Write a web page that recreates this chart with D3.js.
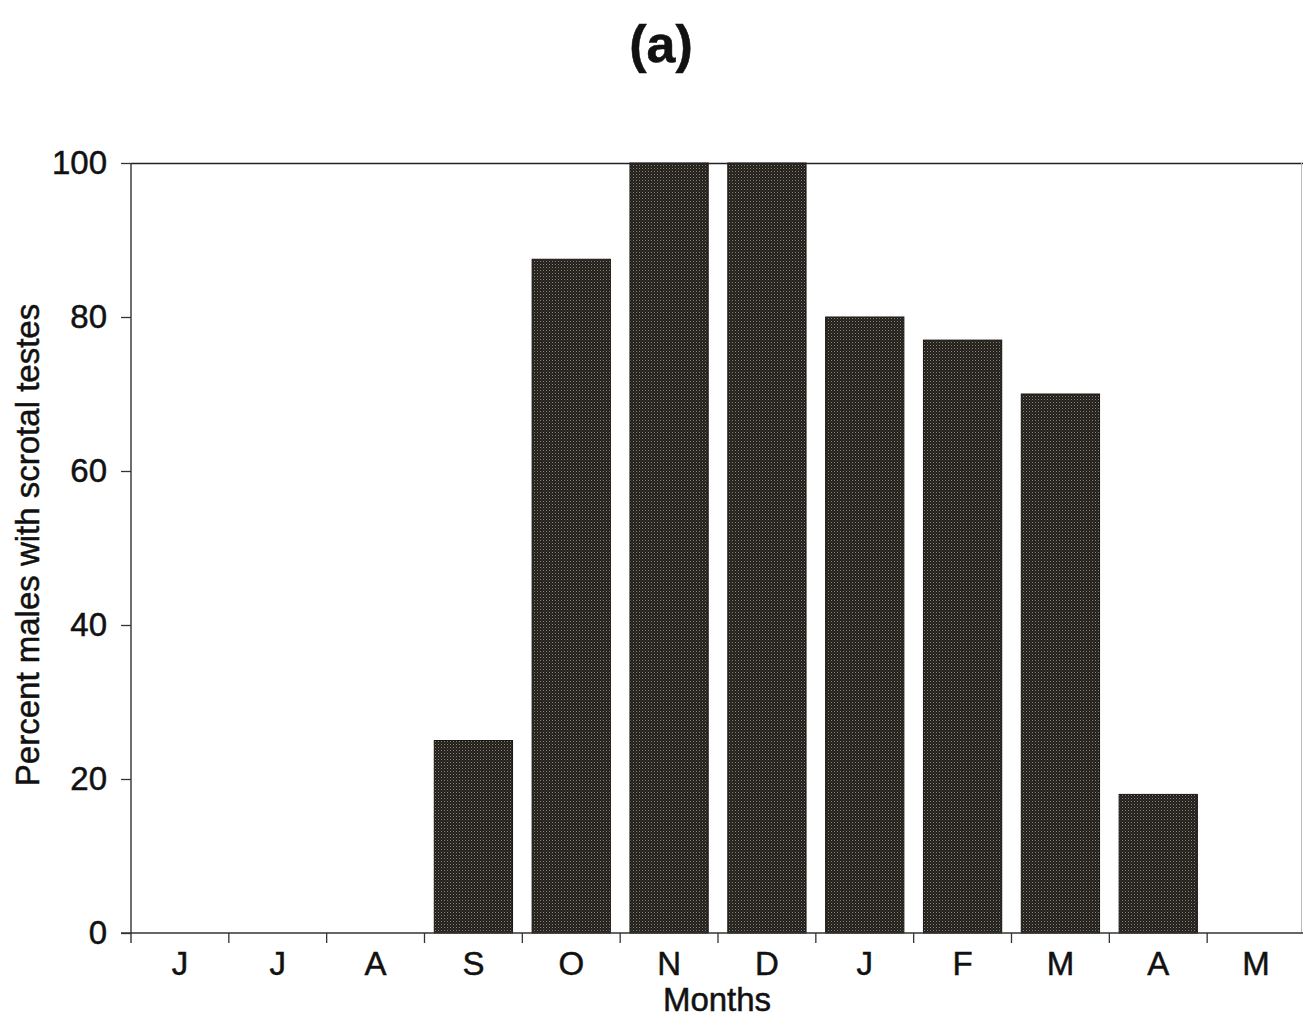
<!DOCTYPE html>
<html>
<head>
<meta charset="utf-8">
<script src="https://cdn.jsdelivr.net/npm/d3@7"></script>
<style>
  html, body { margin: 0; padding: 0; background: #fff; }
  svg { display: block; font-family: "Liberation Sans", Arial, sans-serif; }
  .lbl { fill: #111; stroke: #111; stroke-width: 0.5px; }
</style>
</head>
<body>
<svg id="chart" width="1303" height="1018"></svg>
<script>
// Monthly share of males with scrotal testes
const months = ["J", "J", "A", "S", "O", "N", "D", "J", "F", "M", "A", "M"];
const percentScrotal = [0, 0, 0, 25, 87.5, 100, 100, 80, 77, 70, 18, 0];
const yTicks = [0, 20, 40, 60, 80, 100];

const svg = d3.select("#chart");
const plotLeft = 131, plotRight = 1305, plotTop = 163, plotBottom = 933;

// Stippled dark fill for the bars
const defs = svg.append("defs");
const pat = defs.append("pattern")
  .attr("id", "stipple")
  .attr("patternUnits", "userSpaceOnUse")
  .attr("width", 3).attr("height", 3);
pat.append("rect").attr("width", 3).attr("height", 3).attr("fill", "#221e19");
pat.append("rect").attr("x", 0).attr("y", 0).attr("width", 1).attr("height", 1).attr("fill", "#8a857b");
pat.append("rect").attr("x", 1.5).attr("y", 1.5).attr("width", 1).attr("height", 1).attr("fill", "#55514a");

const idx = months.map((m, i) => i);
const x = d3.scaleBand().domain(idx).range([plotLeft, plotRight]).paddingInner(0.2).paddingOuter(0.1);
const y = d3.scaleLinear().domain([0, 100]).range([plotBottom, plotTop]);

// Bars
svg.append("g").selectAll("rect")
  .data(percentScrotal.map((v, i) => ({ i, v })).filter(d => d.v > 0))
  .join("rect")
  .attr("x", d => x(d.i))
  .attr("width", x.bandwidth())
  .attr("y", d => y(d.v))
  .attr("height", d => y(0) - y(d.v))
  .attr("fill", "url(#stipple)")
  .attr("stroke", "#1a1713")
  .attr("stroke-width", 1);

// Frame: top and right edges
svg.append("line").attr("x1", plotLeft).attr("x2", 1303).attr("y1", plotTop + 0.5).attr("y2", plotTop + 0.5)
  .attr("stroke", "#222").attr("stroke-width", 1.6);
svg.append("line").attr("x1", 1301.5).attr("x2", 1301.5).attr("y1", plotTop).attr("y2", plotBottom)
  .attr("stroke", "#bbb").attr("stroke-width", 1);

// Y axis
const yAxis = d3.axisLeft(y).tickValues(yTicks).tickSize(10).tickPadding(14);
const gy = svg.append("g").attr("transform", `translate(${plotLeft},0)`).call(yAxis);
gy.select(".domain").attr("stroke", "#333").attr("stroke-width", 1.4).attr("d", `M0,${plotTop}V${plotBottom + 10}`);
gy.selectAll(".tick line").attr("stroke", "#333").attr("stroke-width", 1.3);
gy.selectAll(".tick text").attr("class", "lbl").attr("font-size", 33)
  .attr("font-family", "Liberation Sans, Arial, sans-serif");

// X axis: ticks at band boundaries, labels centred in bands
const gx = svg.append("g");
gx.append("line").attr("x1", plotLeft - 10).attr("x2", 1303).attr("y1", plotBottom).attr("y2", plotBottom)
  .attr("stroke", "#333").attr("stroke-width", 1.4);
const step = x.step();
const boundaries = d3.range(1, months.length).map(k => x(0) - x.paddingOuter() * step + k * step);
gx.selectAll("line.tk").data(boundaries).join("line").attr("class", "tk")
  .attr("x1", d => d).attr("x2", d => d).attr("y1", plotBottom).attr("y2", plotBottom + 10)
  .attr("stroke", "#333").attr("stroke-width", 1.3);
gx.selectAll("text").data(idx).join("text")
  .attr("class", "lbl")
  .attr("x", i => x(i) + x.bandwidth() / 2)
  .attr("y", 975)
  .attr("text-anchor", "middle")
  .attr("font-size", 33)
  .text(i => months[i]);

// Axis titles
svg.append("text").attr("class", "lbl").attr("x", 717).attr("y", 1011).attr("text-anchor", "middle")
  .attr("font-size", 33).text("Months");
svg.append("text")
  .attr("class", "lbl")
  .attr("transform", "translate(39,545) rotate(-90)")
  .attr("text-anchor", "middle")
  .attr("font-size", 33)
  .text("Percent males with scrotal testes");

// Panel label
svg.append("text").attr("class", "lbl").attr("x", 661).attr("y", 62).attr("text-anchor", "middle")
  .attr("font-size", 52).attr("font-weight", "bold")
  .text("(a)");
</script>
</body>
</html>
